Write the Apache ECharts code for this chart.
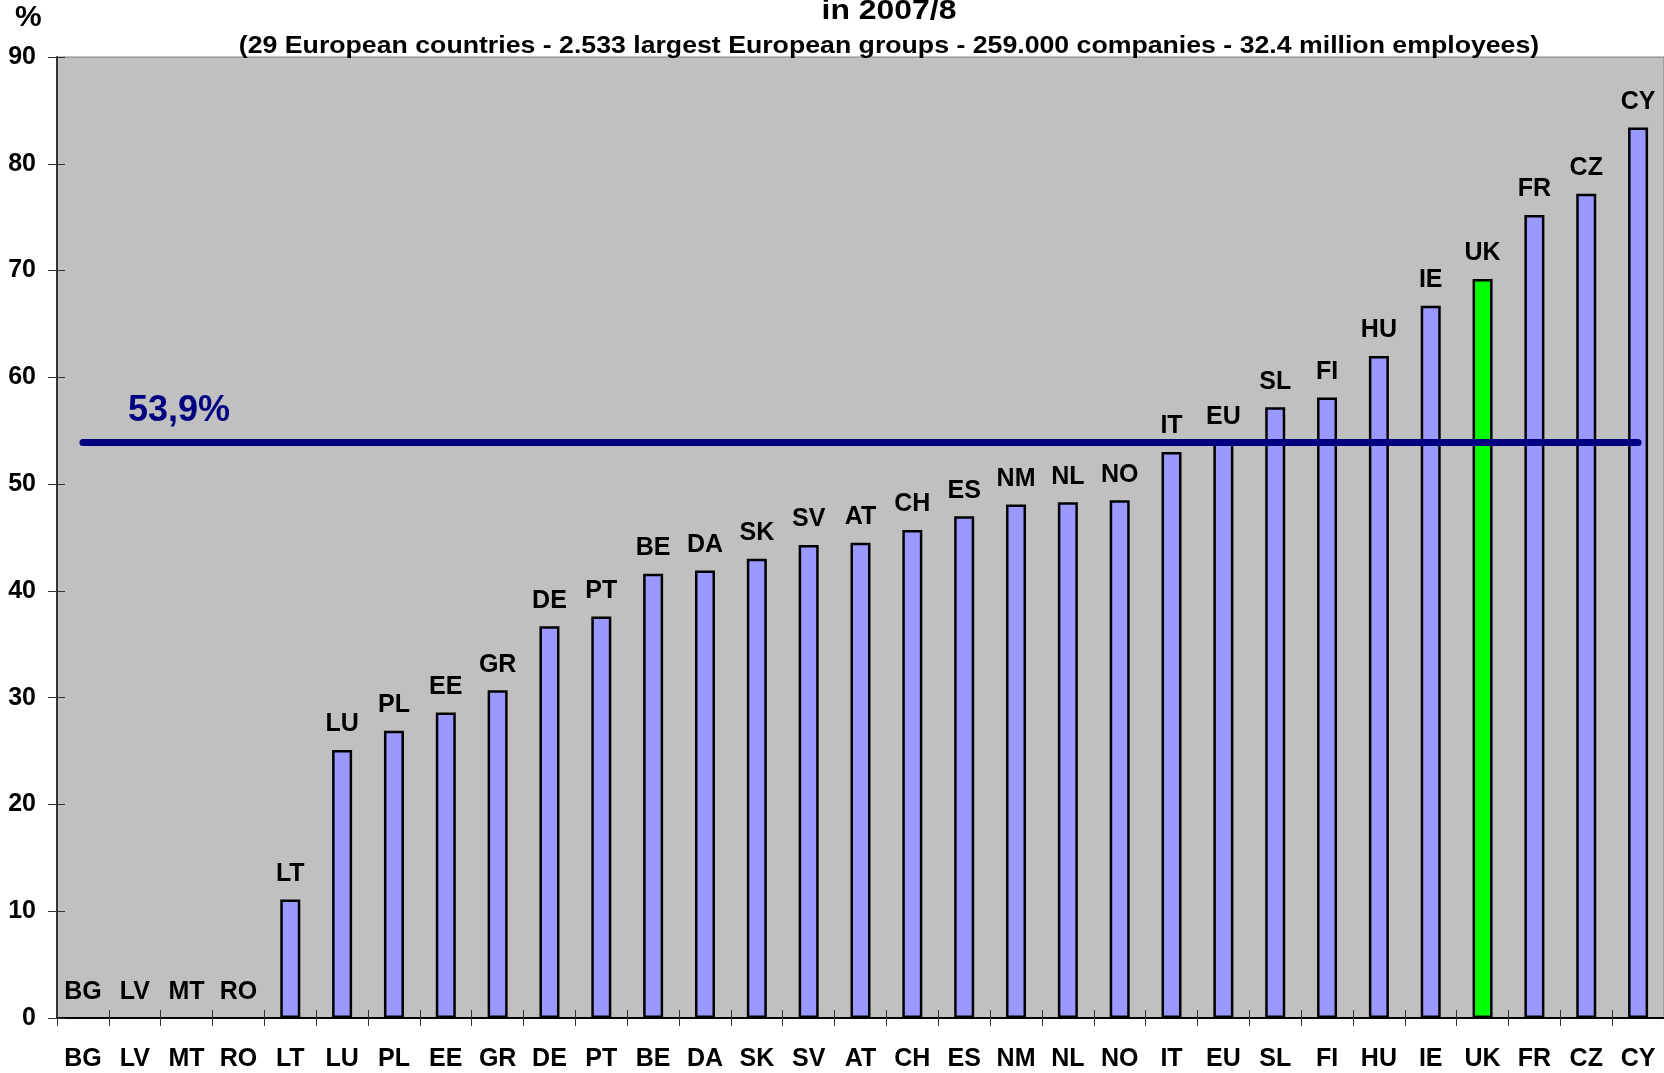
<!DOCTYPE html>
<html>
<head>
<meta charset="utf-8">
<script src="https://cdn.jsdelivr.net/npm/echarts@6/dist/echarts.min.js"></script>
<style>
  html, body { margin: 0; padding: 0; background: #ffffff; }
  #chart { width: 1664px; height: 1073px; }
</style>
</head>
<body>
<div id="chart"></div>
<script>
// Chart data
const titleText = 'in 2007/8';
const subtitleText = '(29 European countries - 2.533 largest European groups - 259.000 companies - 32.4 million employees)';
const unitLabel = '%';
const countries = ['BG', 'LV', 'MT', 'RO', 'LT', 'LU', 'PL', 'EE', 'GR', 'DE', 'PT', 'BE', 'DA', 'SK', 'SV', 'AT',
    'CH', 'ES', 'NM', 'NL', 'NO', 'IT', 'EU', 'SL', 'FI', 'HU', 'IE', 'UK', 'FR', 'CZ', 'CY'];
const shares = [0, 0, 0, 0, 11.1, 25.1, 26.9, 28.6, 30.7, 36.7, 37.6, 41.6, 41.9, 43.0, 44.3, 44.5,
    45.7, 47.0, 48.1, 48.3, 48.5, 53.0, 53.9, 57.2, 58.1, 62.0, 66.7, 69.2, 75.2, 77.2, 83.4];
const highlighted = 'UK';
const euAverage = 53.9;
const averageLabel = '53,9%';

const font = 'Liberation Sans, Arial, sans-serif';
const chart = echarts.init(document.getElementById('chart'));

// empty countries get no outline so nothing shows on the axis
const barData = countries.map((name, i) => {
    const item = { value: shares[i] };
    if (name === highlighted) item.itemStyle = { color: '#00ff00' };
    if (shares[i] === 0) item.itemStyle = { borderWidth: 0 };
    return item;
});

const option = {
    animation: false,
    backgroundColor: '#ffffff',
    graphic: [
        {
            type: 'text',
            x: 889,
            y: -3,
            scaleX: 1.14,
            style: {
                text: titleText, textAlign: 'center', textVerticalAlign: 'top',
                fontFamily: font, fontWeight: 'bold', fontSize: 28, fill: '#000'
            }
        },
        {
            type: 'text',
            x: 889,
            y: 35,
            scaleX: 1.16,
            style: {
                text: subtitleText, textAlign: 'center', textVerticalAlign: 'top',
                fontFamily: font, fontWeight: 'bold', fontSize: 23, fill: '#000'
            }
        },
        {
            type: 'text',
            left: 15,
            top: 3,
            style: { text: unitLabel, fontFamily: font, fontWeight: 'bold', fontSize: 30, fill: '#000' }
        }
    ],
    grid: {
        left: 57,
        top: 57,
        width: 1609,
        height: 961,
        show: true,
        backgroundColor: '#c0c0c0',
        borderColor: '#808080',
        borderWidth: 1
    },
    xAxis: [
        {
            type: 'category',
            data: countries,
            position: 'bottom',
            axisLine: { show: true, lineStyle: { color: '#000', width: 2 } },
            axisTick: { show: true, length: 8, lineStyle: { color: '#333', width: 1 } },
            axisLabel: {
                interval: 0, margin: 29, color: '#000',
                fontFamily: font, fontWeight: 'bold', fontSize: 25
            }
        },
        {
            // inner half of the crossing ticks
            type: 'category',
            data: countries,
            position: 'bottom',
            axisLine: { show: false },
            axisTick: { show: true, inside: true, length: 8, lineStyle: { color: '#333', width: 1 } },
            axisLabel: { show: false }
        }
    ],
    yAxis: [
        {
            type: 'value',
            min: 0,
            max: 90,
            interval: 10,
            position: 'left',
            splitLine: { show: false },
            axisLine: { show: true, lineStyle: { color: '#333', width: 2 } },
            axisTick: { show: true, length: 9, lineStyle: { color: '#333', width: 1 } },
            axisLabel: {
                margin: 21, color: '#000',
                fontFamily: font, fontWeight: 'bold', fontSize: 25
            }
        },
        {
            type: 'value',
            min: 0,
            max: 90,
            interval: 10,
            position: 'left',
            splitLine: { show: false },
            axisLine: { show: false },
            axisTick: { show: true, inside: true, length: 8, lineStyle: { color: '#333', width: 1 } },
            axisLabel: { show: false }
        }
    ],
    series: [{
        type: 'bar',
        data: barData,
        barWidth: 20,
        itemStyle: { color: '#9999ff', borderColor: '#000', borderWidth: 2.5 },
        label: {
            show: true,
            position: 'top',
            distance: 13,
            formatter: '{b}',
            color: '#000',
            fontFamily: font,
            fontWeight: 'bold',
            fontSize: 25
        },
        markLine: {
            silent: true,
            symbol: ['none', 'none'],
            lineStyle: { color: '#000080', width: 7, type: 'solid', cap: 'round' },
            label: {
                show: true,
                position: 'insideStartTop',
                distance: [45, 13],
                formatter: averageLabel,
                color: '#000080',
                fontFamily: font,
                fontWeight: 'bold',
                fontSize: 36
            },
            data: [[
                { coord: [0, euAverage] },
                { coord: [countries.length - 1, euAverage] }
            ]]
        }
    }]
};

chart.setOption(option);
</script>
</body>
</html>
